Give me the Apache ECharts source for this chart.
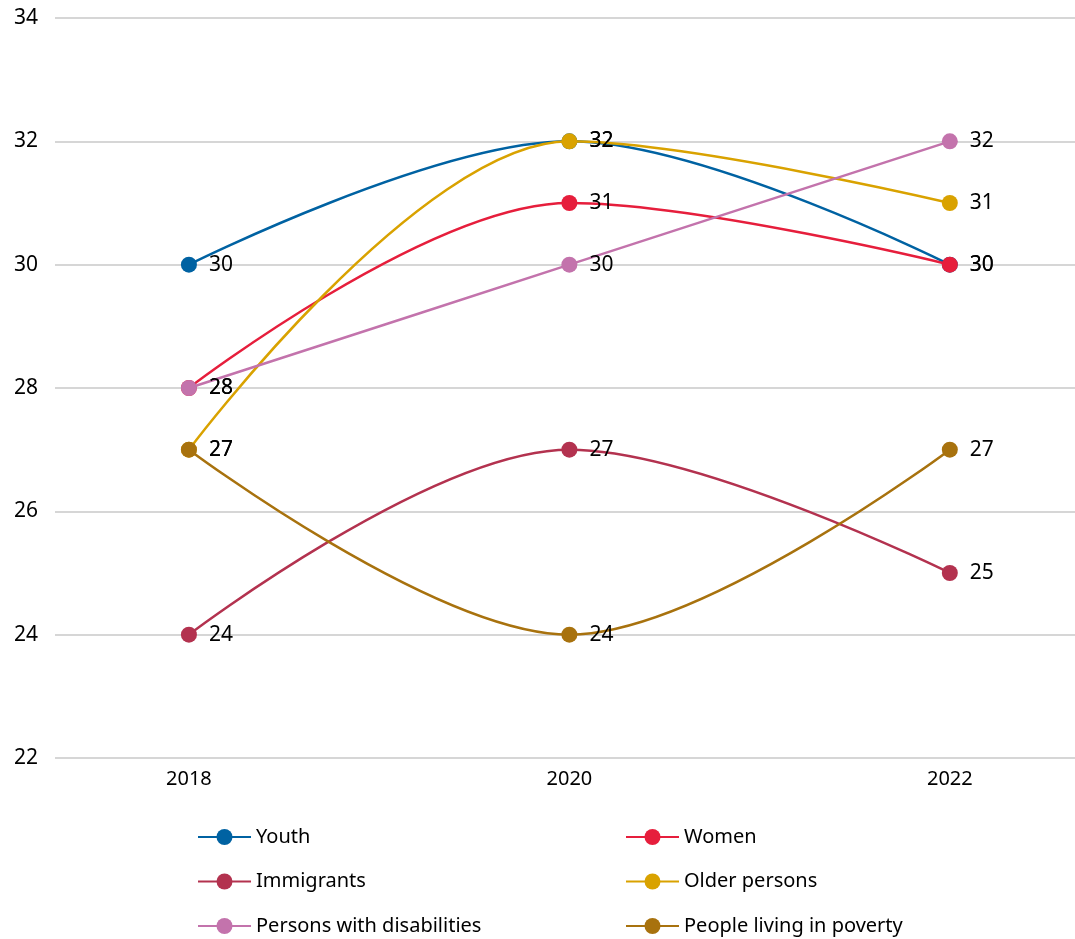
<!DOCTYPE html>
<html>
<head>
<meta charset="utf-8">
<script src="https://cdn.jsdelivr.net/npm/echarts@6/dist/echarts.min.js"></script>
<style>html,body{margin:0;padding:0;background:#fff}#c{width:1075px;height:939px}</style>
</head>
<body>
<div id="c"></div>
<script>
const categories = ['2018', '2020', '2022'];
const seriesNames = ['Youth', 'Women', 'Immigrants', 'Older persons', 'Persons with disabilities', 'People living in poverty'];
const youth = [30, 32, 30];
const women = [28, 31, 30];
const immigrants = [24, 27, 25];
const olderPersons = [27, 32, 31];
const disabilities = [28, 30, 32];
const poverty = [27, 24, 27];
const yTicks = [22, 24, 26, 28, 30, 32, 34];

const colors = ['#0062A2', '#E61E3C', '#B3324F', '#D9A200', '#C373AC', '#A8720E'];
const values = [youth, women, immigrants, olderPersons, disabilities, poverty];
const FONT = '"Noto Sans", sans-serif';

const chart = echarts.init(document.getElementById('c'));
const series = seriesNames.map((name, i) => ({
  name: name,
  type: 'line',
  smooth: 0.35,
  data: values[i].map((v, j) => [j, v]),
  symbol: 'circle',
  symbolSize: 16,
  lineStyle: { width: 2.5, color: colors[i] },
  itemStyle: { color: colors[i] },
  label: {
    show: true, position: 'right', distance: 12,
    color: '#000', fontSize: 21, fontFamily: FONT,
    formatter: p => p.value[1]
  },
  emphasis: { disabled: true },
  z: 2 + i
}));

const legendBase = {
  orient: 'vertical', top: 822, itemGap: 24.5, height: 130,
  itemWidth: 53, itemHeight: 20,
  textStyle: { color: '#000', fontSize: 20, fontFamily: FONT }
};

chart.setOption({
  animation: false,
  grid: { left: 55, right: 0, top: 18, bottom: 181 },
  xAxis: {
    type: 'value',
    min: -0.352, max: 2.329,
    axisLine: { show: false }, axisTick: { show: false }, splitLine: { show: false },
    axisLabel: {
      customValues: [0, 1, 2],
      formatter: v => categories[Math.round(v)],
      color: '#000', fontSize: 20, fontFamily: FONT, margin: 11
    }
  },
  yAxis: {
    type: 'value', min: yTicks[0], max: yTicks[yTicks.length - 1], interval: 2,
    axisLine: { show: false }, axisTick: { show: false },
    splitLine: { lineStyle: { color: '#c8c8c8', width: 1.5 } },
    axisLabel: { color: '#000', fontSize: 21, fontFamily: FONT, margin: 17 }
  },
  legend: [
    Object.assign({}, legendBase, { left: 192, data: seriesNames.filter((_, i) => i % 2 === 0) }),
    Object.assign({}, legendBase, { left: 620, data: seriesNames.filter((_, i) => i % 2 === 1) })
  ],
  series: series
});
</script>
</body>
</html>
